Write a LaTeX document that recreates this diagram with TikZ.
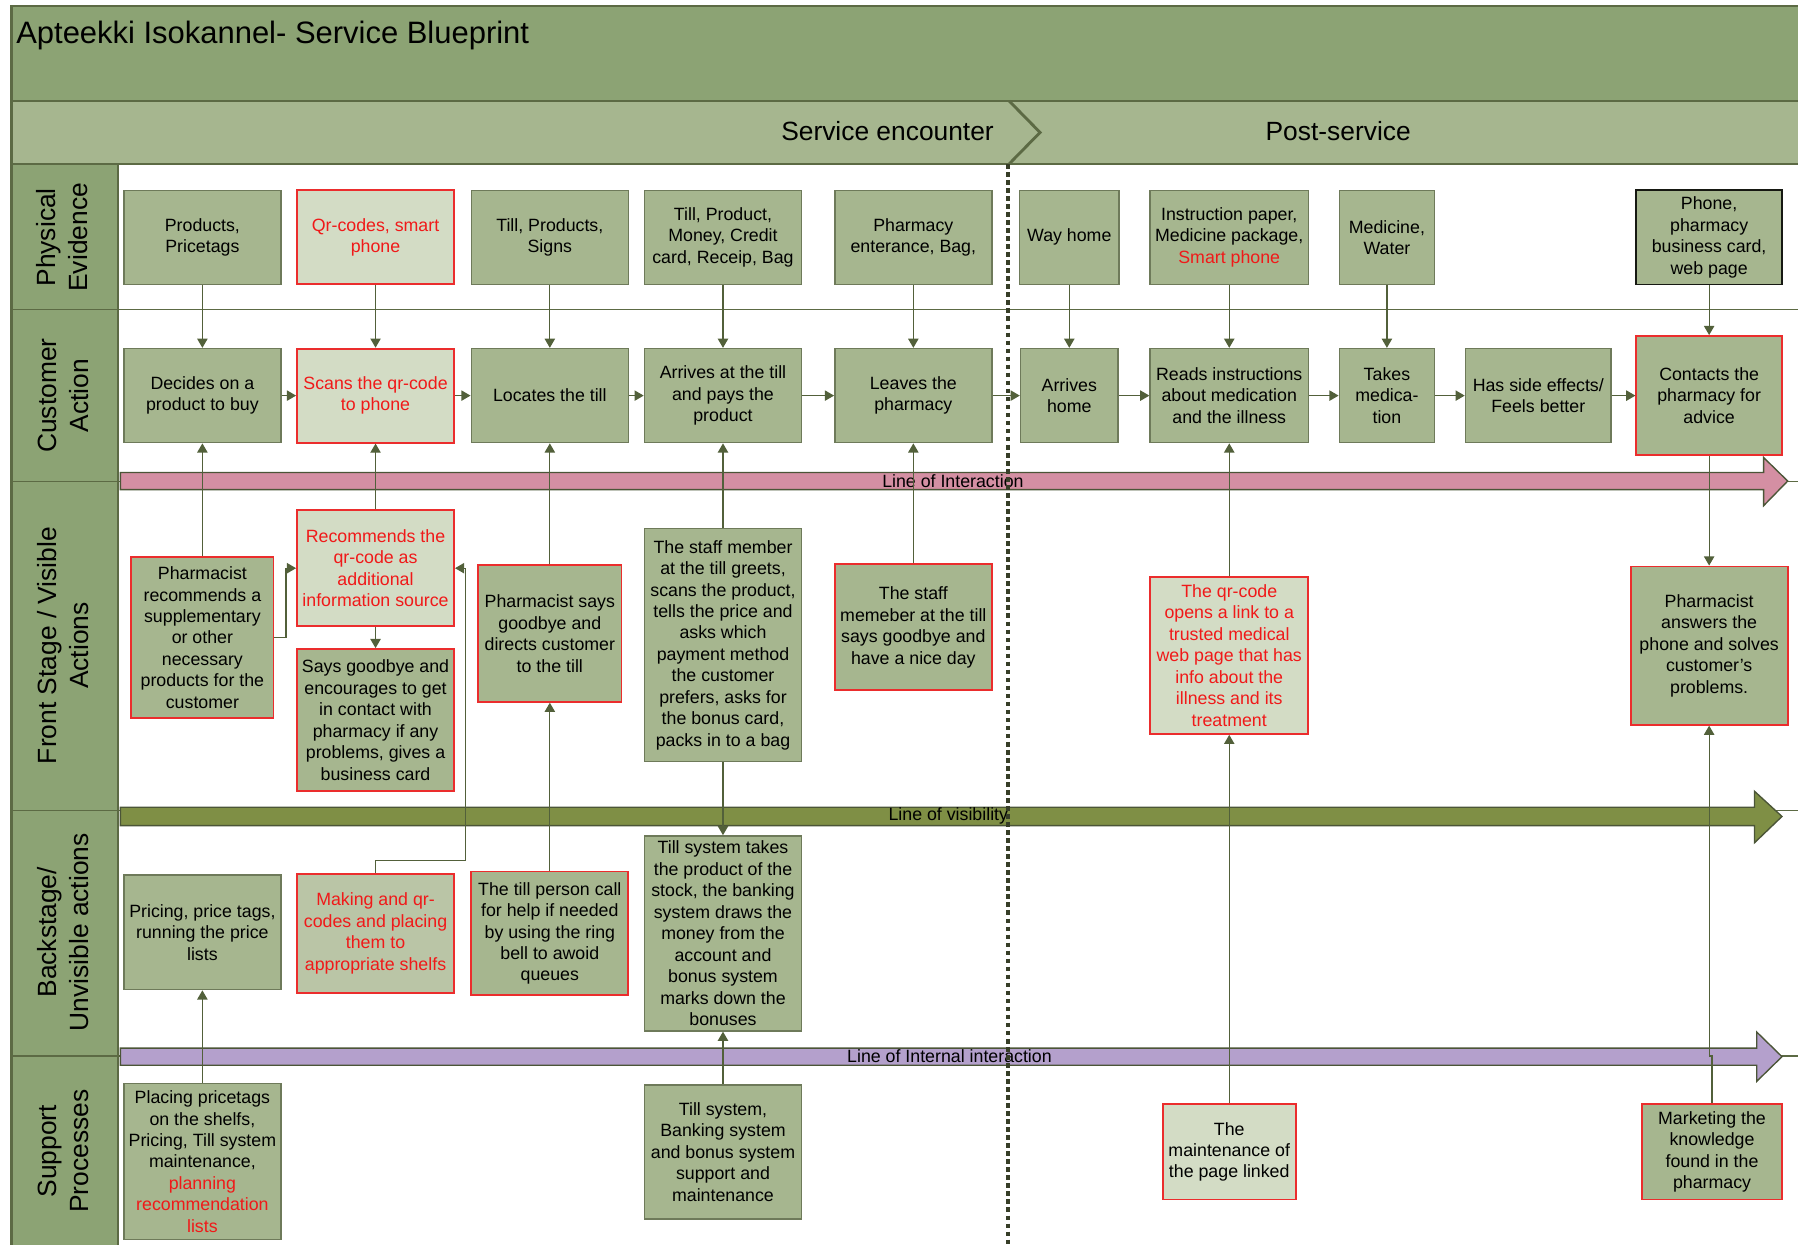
\documentclass[tikz,border=0pt]{standalone}
\usepackage{fontspec}
\setmainfont{Liberation Sans}
\usetikzlibrary{arrows.meta}
\definecolor{hdrfill}{RGB}{140,163,116}
\definecolor{phasefill}{RGB}{166,182,143}
\definecolor{boxfill}{RGB}{166,182,143}
\definecolor{lightfill}{RGB}{211,220,197}
\definecolor{midfill}{RGB}{186,197,166}
\definecolor{boxline}{RGB}{110,122,90}
\definecolor{redline}{RGB}{235,45,45}
\definecolor{redtext}{RGB}{240,25,25}
\definecolor{connline}{RGB}{82,96,58}
\definecolor{frameline}{RGB}{92,106,68}
\definecolor{dotline}{RGB}{55,62,40}
\definecolor{pinkband}{RGB}{212,143,163}
\definecolor{oliveband}{RGB}{127,143,69}
\definecolor{lilacband}{RGB}{180,160,204}
\definecolor{bandline}{RGB}{75,85,55}
\newcommand{\boxfont}{\fontsize{15.5}{18.7}\selectfont}
\newcommand{\lanefont}{\fontsize{23}{28}\selectfont}
\tikzset{
  box/.style={draw=boxline, fill=boxfill, line width=1.3pt, align=center, inner sep=2pt, font=\boxfont},
  redbox/.style={box, draw=redline, line width=1.6pt},
  qrbox/.style={redbox, fill=lightfill, text=redtext},
  boxsize/.style 2 args={minimum width=#1pt, minimum height=#2pt},
  conn/.style={draw=connline, line width=1.1pt, -{Triangle[length=8pt,width=9pt]}},
  lane/.style={rotate=90, align=center, font=\lanefont},
  band/.style={draw=bandline, line width=1.2pt},
  bandtext/.style={font=\boxfont, inner sep=0pt}
}
\begin{document}
\begin{tikzpicture}[x=1pt,y=-1pt]
\pgfmathsetmacro{\ype}{207}
\pgfmathsetmacro{\yca}{345}
\useasboundingbox (0,0) rectangle (1568,1085);
% title and phases
\fill[hdrfill] (10,5) rectangle (1580,88);
\fill[phasefill] (10,88) rectangle (1580,143);
\fill[hdrfill] (10,143) rectangle (103,1095);
\draw[frameline, line width=2pt] (1580,5) -- (10,5) -- (10,1095);
\draw[frameline, line width=2pt] (10,88) -- (1580,88) (10,143) -- (1580,143);
\draw[frameline, line width=1.5pt] (103,143) -- (103,1095);
\draw[frameline, line width=2.5pt] (880,88) -- (907,115.5) -- (880,143);
\foreach \y in {270,420,707,921}
  \draw[frameline, line width=1.2pt] (10,\y) -- (1580,\y);
\node[anchor=base west, inner sep=0pt, font=\fontsize{27}{32}\selectfont] (title) at (14,38) {Apteekki Isokannel- Service Blueprint};
\node[font=\lanefont] (ph1) at (774,114) {Service encounter};
\node[font=\lanefont] (ph2) at (1167,114) {Post-service};
% lanes
\node[lane] (l1) at (54,207) {Physical\\Evidence};
\node[lane] (l2) at (55,345) {Customer\\Action};
\node[lane] (l3) at (55,563) {Front Stage / Visible\\Actions};
\node[lane] (l4) at (55,813) {Backstage/\\Unvisible actions};
\node[lane] (l5) at (55,1004) {Support\\Processes};
% lines
\filldraw[band, fill=pinkband] (105,412) -- (1538,412) -- (1538,399) -- (1559,419.5) -- (1538,441) -- (1538,427) -- (105,427) -- cycle;
\filldraw[band, fill=oliveband] (105,704) -- (1530,704) -- (1530,690) -- (1554,712) -- (1530,735) -- (1530,720) -- (105,720) -- cycle;
\filldraw[band, fill=lilacband] (105,914) -- (1532,914) -- (1532,900) -- (1554,921.5) -- (1532,943) -- (1532,929) -- (105,929) -- cycle;
\node[bandtext] (loi) at (831,419.5) {Line of Interaction};
\node[bandtext] (lov) at (827,711.5) {Line of visibility};
\node[bandtext] (lii) at (828,921) {Line of Internal interaction};
\draw[dotline, line width=3.5pt, dash pattern=on 4pt off 3pt] (879,143) -- (879,1085);
% physical evidence
\node[box, boxsize={137}{82}] (pe1) at (176.5,\ype) {Products,\\Pricetags};
\node[qrbox, boxsize={137}{82}] (pe2) at (327.5,\ype) {Qr-codes, smart\\phone};
\node[box, boxsize={137}{82}] (pe3) at (479.5,\ype) {Till, Products,\\Signs};
\node[box, boxsize={137}{82}] (pe4) at (630.5,\ype) {Till, Product,\\Money, Credit\\card, Receip, Bag};
\node[box, boxsize={137}{82}] (pe5) at (796.5,\ype) {Pharmacy\\enterance, Bag,};
\node[box, boxsize={87}{82}] (pe6) at (932.5,\ype) {Way home};
\node[box, boxsize={138}{82}] (pe7) at (1072,\ype) {Instruction paper,\\Medicine package,\\\textcolor{redtext}{Smart phone}};
\node[box, boxsize={83}{82}] (pe8) at (1209.5,\ype) {Medicine,\\Water};
\node[box, draw=black!80!boxline, line width=1.5pt, boxsize={127}{82}] (pe9) at (1490.5,\ype) {Phone,\\pharmacy\\business card,\\web page};
% customer actions
\node[box, boxsize={137}{82}] (ca1) at (176.5,\yca) {Decides on a\\product to buy};
\node[qrbox, boxsize={137}{82}] (ca2) at (327.5,\yca) {Scans the qr-code\\to phone};
\node[box, boxsize={137}{82}] (ca3) at (479.5,\yca) {Locates the till};
\node[box, boxsize={137}{82}] (ca4) at (630.5,\yca) {Arrives at the till\\and pays the\\product};
\node[box, boxsize={137}{82}] (ca5) at (796.5,\yca) {Leaves the\\pharmacy};
\node[box, boxsize={85}{82}] (ca6) at (932.5,\yca) {Arrives\\home};
\node[box, boxsize={138}{82}] (ca7) at (1072,\yca) {Reads instructions\\about medication\\and the illness};
\node[box, boxsize={83}{82}] (ca8) at (1209.5,\yca) {Takes\\medica-\\tion};
\node[box, boxsize={127}{82}] (ca9) at (1341.5,\yca) {Has side effects/\\Feels better};
\node[redbox, boxsize={127}{104}] (ca10) at (1490.5,\yca) {Contacts the\\pharmacy for\\advice};
% front stage
\node[redbox, boxsize={124}{140}] (fs1) at (176.5,556) {Pharmacist\\recommends a\\supplementary\\or other\\necessary\\products for the\\customer};
\node[qrbox, boxsize={137}{101}] (fs2) at (327.5,495.5) {Recommends the\\qr-code as\\additional\\information source};
\node[redbox, boxsize={137}{124}] (fs3) at (327.5,628) {Says goodbye and\\encourages to get\\in contact with\\pharmacy if any\\problems, gives a\\business card};
\node[redbox, boxsize={125}{119}] (fs4) at (479.5,552.5) {Pharmacist says\\goodbye and\\directs customer\\to the till};
\node[box, boxsize={137}{203}] (fs5) at (630.5,562.5) {The staff member\\at the till greets,\\scans the product,\\tells the price and\\asks which\\payment method\\the customer\\prefers, asks for\\the bonus card,\\packs in to a bag};
\node[redbox, boxsize={137}{110}] (fs6) at (796.5,547) {The staff\\memeber at the till\\says goodbye and\\have a nice day};
\node[qrbox, boxsize={138}{137}] (fs7) at (1072,571.5) {The qr-code\\opens a link to a\\trusted medical\\web page that has\\info about the\\illness and its\\treatment};
\node[redbox, boxsize={137}{138}] (fs8) at (1490.5,563) {Pharmacist\\answers the\\phone and solves\\customer's\\problems.};
% backstage
\node[box, boxsize={137}{100}] (bs1) at (176.5,813) {Pricing, price tags,\\running the price\\lists};
\node[redbox, fill=midfill, text=redtext, boxsize={137}{104}] (bs2) at (327.5,814) {Making and qr-\\codes and placing\\them to\\appropriate shelfs};
\node[redbox, boxsize={137}{108}] (bs3) at (479.5,814) {The till person call\\for help if needed\\by using the ring\\bell to awoid\\queues};
\node[box, boxsize={137}{170}] (bs4) at (630.5,814) {Till system takes\\the product of the\\stock, the banking\\system draws the\\money from the\\account and\\bonus system\\marks down the\\bonuses};
% support
\node[box, boxsize={137}{136}] (sp1) at (176.5,1013) {Placing pricetags\\on the shelfs,\\Pricing, Till system\\maintenance,\\\textcolor{redtext}{planning}\\\textcolor{redtext}{recommendation}\\\textcolor{redtext}{lists}};
\node[box, boxsize={137}{117}] (sp2) at (630.5,1004.5) {Till system,\\Banking system\\and bonus system\\support and\\maintenance};
\node[redbox, fill=lightfill, boxsize={116}{83}] (sp3) at (1072,1004.5) {The\\maintenance of\\the page linked};
\node[redbox, boxsize={122}{83}] (sp4) at (1493,1004.5) {Marketing the\\knowledge\\found in the\\pharmacy};
% connectors
\foreach \p/\c in {pe1/ca1,pe2/ca2,pe3/ca3,pe4/ca4,pe5/ca5,pe6/ca6,pe7/ca7,pe8/ca8,pe9/ca10}
  \draw[conn] (\p) -- (\c);
\foreach \a/\b in {ca1/ca2,ca2/ca3,ca3/ca4,ca4/ca5,ca5/ca6,ca6/ca7,ca7/ca8,ca8/ca9,ca9/ca10}
  \draw[conn] (\a) -- (\b);
\foreach \f/\c in {fs1/ca1,fs2/ca2,fs4/ca3,fs5/ca4,fs6/ca5,fs7/ca7}
  \draw[conn] (\f) -- (\c);
\draw[conn] (ca10) -- (fs8);
\draw[conn] (fs2) -- (fs3);
\draw[conn] (fs1.east) -- ++(10,0) |- (fs2.west);
\draw[conn] (bs2.north) -- ++(0,-11) -- ++(78.5,0) |- (fs2.east);
\draw[conn] (bs3) -- (fs4);
\draw[conn] (fs5) -- (bs4);
\draw[conn] (sp1) -- (bs1);
\draw[conn] (sp2) -- (bs4);
\draw[conn] (sp3) -- (fs7);
\coordinate (jog) at (1490.5,921);
\draw[conn] (sp4.north) |- (jog) -- (fs8.south);
\end{tikzpicture}
\end{document}
